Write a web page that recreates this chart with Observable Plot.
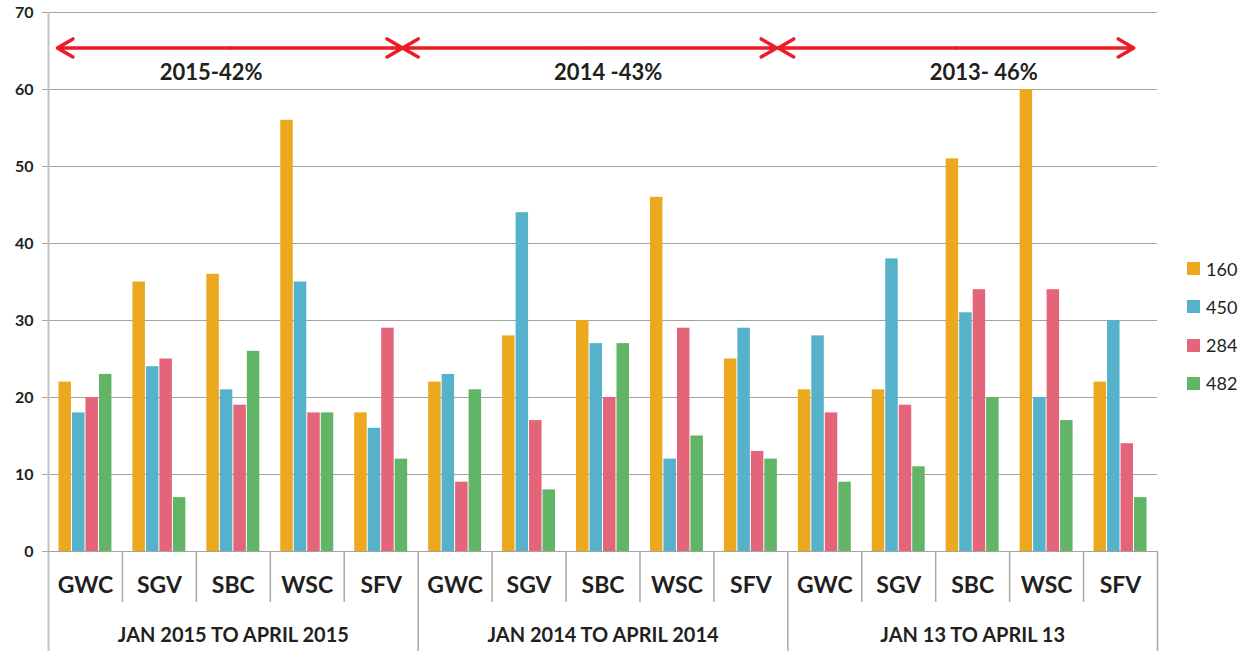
<!DOCTYPE html>
<html><head><meta charset="utf-8">
<script src="https://cdn.jsdelivr.net/npm/d3@7"></script>
<script src="https://cdn.jsdelivr.net/npm/@observablehq/plot@0.6"></script>
<style>
body{margin:0;background:#fff;font-family:Lato, sans-serif}
#wrap{position:relative;width:1248px;height:652px;overflow:hidden}
#legend{position:absolute;left:1187px;top:262px}
.item{display:flex;align-items:center;height:13px;margin-bottom:25.3px;font-size:18px;color:#231f20}
.sw{width:13px;height:13px;margin-right:6px;flex:none}
</style></head><body>
<div id="wrap"><div id="chart"></div><div id="legend"></div></div>
<script>
const groups = ["JAN 2015 TO APRIL 2015", "JAN 2014 TO APRIL 2014", "JAN 13 TO APRIL 13"];
const sites = ["GWC", "SGV", "SBC", "WSC", "SFV"];
const series = ["160", "450", "284", "482"];
const colors = ["#ECA920", "#56B2CA", "#E4647A", "#62B466"];
const values160 = [22, 35, 36, 56, 18, 22, 28, 30, 46, 25, 21, 21, 51, 60, 22];
const values450 = [18, 24, 21, 35, 16, 23, 44, 27, 12, 29, 28, 38, 31, 20, 30];
const values284 = [20, 25, 19, 18, 29, 9, 17, 20, 29, 13, 18, 19, 34, 34, 14];
const values482 = [23, 7, 26, 18, 12, 21, 8, 27, 15, 12, 9, 11, 20, 17, 7];
const yTicks = [0, 10, 20, 30, 40, 50, 60, 70];
const spanLabels = ["2015-42%", "2014 -43%", "2013- 46%"];
const spanStart = [0.12, 4.79, 9.87];
const spanEnd = [4.79, 9.85, 14.68];
const spanLabelX = [2.2, 7.57, 12.65];
const arrowY = 65.4;
const spanLabelY = 62.1;

// layout inside each category slot (in slot units)
const barOffset = 10 / 74, barWidth = 13.5 / 74;
const seriesValues = [values160, values450, values284, values482];

const cats = [];
groups.forEach((g, gi) => sites.forEach((s, si) => cats.push({group: g, site: s, pos: gi * sites.length + si})));
const bars = [];
cats.forEach(c => series.forEach((s, j) => {
  const x1 = c.pos + barOffset + j * barWidth;
  bars.push({series: s, x1, x2: x1 + barWidth, value: seriesValues[j][c.pos]});
}));
const arrows = [];
spanLabels.forEach((l, i) => {
  const mid = (spanStart[i] + spanEnd[i]) / 2;
  arrows.push({x1: mid, x2: spanStart[i]}, {x1: mid, x2: spanEnd[i]});
});
const spans = spanLabels.map((l, i) => ({label: l, x: spanLabelX[i]}));
const n = cats.length;
const boundaries = d3.range(0, n + 1);
const fullLines = boundaries.filter(b => b % sites.length === 0);
const shortLines = boundaries.filter(b => b % sites.length !== 0);
const groupLabels = groups.map((g, i) => ({label: g, x: i * sites.length + sites.length / 2}));
const siteLabels = cats.map(c => ({label: c.site, x: c.pos + 0.5}));

const chart = Plot.plot({
  width: 1160, height: 652,
  marginLeft: 48, marginRight: 3, marginTop: 12, marginBottom: 101,
  style: {fontFamily: "Lato, sans-serif", color: "#231f20", background: "white"},
  x: {domain: [0, n], axis: null},
  y: {domain: [0, 70], axis: null},
  color: {domain: series, range: colors},
  marks: [
    Plot.gridY(yTicks, {stroke: "#a3a3a3", strokeOpacity: 1, strokeWidth: 1}),
    Plot.axisY(yTicks, {tickSize: 6, tickPadding: 9, fontSize: 16, fontWeight: "bold", stroke: "#a3a3a3", label: null, fill: "#231f20"}),
    Plot.rectY(bars, {x1: "x1", x2: "x2", y1: 0, y2: "value", fill: "series", insetLeft: 0.5, insetRight: 0.5}),
    Plot.ruleX(shortLines, {x: d => d, y1: 0, y2: 0, insetBottom: -51, stroke: "#a8a8a8", strokeWidth: 1.5}),
    Plot.ruleX(fullLines.slice(1), {x: d => d, y1: 0, y2: 0, insetBottom: -100, stroke: "#a8a8a8", strokeWidth: 1.5}),
    Plot.ruleX([0], {x: d => d, y1: 70, y2: 0, insetBottom: -100, stroke: "#c2c2c2", strokeWidth: 2}),
    Plot.ruleY([0], {stroke: "#a3a3a3", strokeWidth: 1}),
    Plot.text(siteLabels, {x: "x", y: 0, text: "label", dy: 34, fontSize: 23, fontWeight: "bold", fill: "#231f20"}),
    Plot.text(groupLabels, {x: "x", y: 0, text: "label", dy: 84, fontSize: 20, fontWeight: "bold", fill: "#231f20"}),
    Plot.arrow(arrows, {x1: "x1", x2: "x2", y1: arrowY, y2: arrowY, stroke: "#ED1C24", strokeWidth: 3.5, headLength: 7.7, headAngle: 60}),
    Plot.text(spans, {x: "x", y: spanLabelY, text: "label", fontSize: 22, fontWeight: "bold", fill: "#231f20"})
  ]
});
document.getElementById("chart").appendChild(chart);

const legend = document.getElementById("legend");
series.forEach((s, i) => {
  const item = document.createElement("div");
  item.className = "item";
  const sw = document.createElement("span");
  sw.className = "sw";
  sw.style.background = colors[i];
  const t = document.createElement("span");
  t.textContent = s;
  item.appendChild(sw); item.appendChild(t);
  legend.appendChild(item);
});
</script>
</body></html>
